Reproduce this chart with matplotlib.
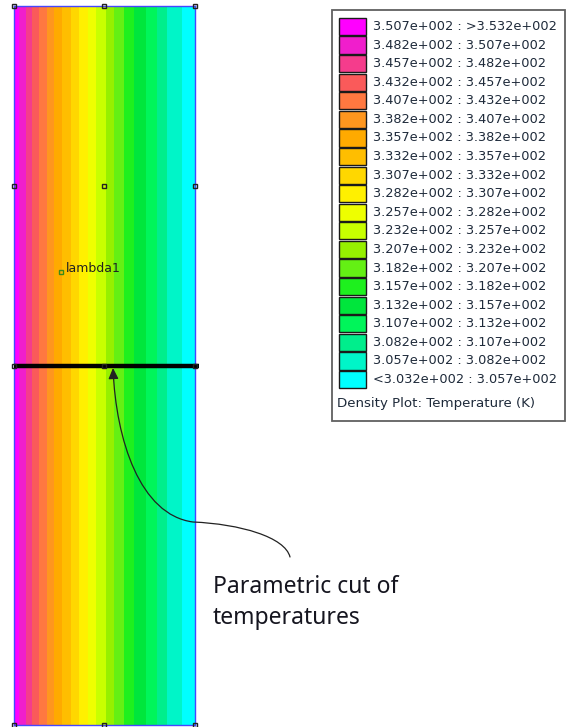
import matplotlib
matplotlib.use('Agg')
import matplotlib.pyplot as plt
from matplotlib.colors import ListedColormap, BoundaryNorm
from matplotlib.patches import Rectangle, FancyArrowPatch
from matplotlib.path import Path

#---------------------------------------------------------------
## Datos: niveles del mapa de densidad (K) y colores de la paleta
niveles = [303.2, 305.7, 308.2, 310.7, 313.2, 315.7, 318.2, 320.7, 323.2, 325.7,
           328.2, 330.7, 333.2, 335.7, 338.2, 340.7, 343.2, 345.7, 348.2, 350.7, 353.2]
colores = ['#00FFFF', '#00F5C8', '#00EE8C', '#00F55A', '#00E63C', '#1EF01E',
           '#64F014', '#96F000', '#C8FF00', '#EEFF00', '#FFF000', '#FFD700',
           '#FFBE00', '#FFAA00', '#FF961E', '#FF7840', '#FA5A5A', '#F53C8C',
           '#F01ECC', '#FF00FF']
etiquetas = ['3.507e+002 : >3.532e+002', '3.482e+002 : 3.507e+002',
             '3.457e+002 : 3.482e+002', '3.432e+002 : 3.457e+002',
             '3.407e+002 : 3.432e+002', '3.382e+002 : 3.407e+002',
             '3.357e+002 : 3.382e+002', '3.332e+002 : 3.357e+002',
             '3.307e+002 : 3.332e+002', '3.282e+002 : 3.307e+002',
             '3.257e+002 : 3.282e+002', '3.232e+002 : 3.257e+002',
             '3.207e+002 : 3.232e+002', '3.182e+002 : 3.207e+002',
             '3.157e+002 : 3.182e+002', '3.132e+002 : 3.157e+002',
             '3.107e+002 : 3.132e+002', '3.082e+002 : 3.107e+002',
             '3.057e+002 : 3.082e+002', '<3.032e+002 : 3.057e+002']

## Geometria del modelo (mm): bordes de las isotermas y temperatura de cada franja
x_bordes = [0.0, 0.28, 0.67, 1.0, 1.39, 1.83, 2.22, 2.67, 3.17, 3.61, 4.11,
            4.56, 5.11, 5.56, 6.11, 6.67, 7.33, 7.94, 8.5, 9.28, 10.0]
T_franjas = [352.0, 349.5, 347.0, 344.5, 342.0, 339.5, 337.0, 334.5, 332.0, 329.5,
             327.0, 324.5, 322.0, 319.5, 317.0, 314.5, 312.0, 309.5, 307.0, 304.5]
nodos_x = [0, 5, 10]
nodos_y = [0, 20, 30, 40]
y_corte = 20
#---------------------------------------------------------------
W, H = 566, 727
fig = plt.figure(figsize=(W/100, H/100), dpi=100)

## Mapa de temperatura
axf = fig.add_axes([14/W, (H-725)/H, 180.5/W, 719/H])
cmap = ListedColormap(colores)
norm = BoundaryNorm(niveles, cmap.N)
axf.pcolormesh(x_bordes, [0, 40], [T_franjas], cmap=cmap, norm=norm)
axf.set_xlim(0, 10)
axf.set_ylim(0, 40)
axf.set_xticks([])
axf.set_yticks([])
for s in axf.spines.values():
    s.set_color('#4646ff')
    s.set_linewidth(1.0)

# corte parametrico
axf.plot([0, 10.25], [y_corte, y_corte], color='black', lw=3.2, clip_on=False,
         solid_capstyle='butt', zorder=5)
for yy in nodos_y:
    for xx in nodos_x:
        axf.plot(xx, yy, 's', ms=3.5, mfc='none', mec='#222222', mew=1.0,
                 clip_on=False, zorder=6)
axf.plot(2.6, 25.2, 's', ms=3.2, mfc='none', mec='#3a8a1a', mew=1.0, zorder=6)
axf.text(2.9, 25.2, 'lambda1', fontsize=9, color='#222222', va='baseline', ha='left')

## Capa de anotaciones en pixeles
ax = fig.add_axes([0, 0, 1, 1])
ax.set_xlim(0, W)
ax.set_ylim(H, 0)
ax.axis('off')

# leyenda
ax.add_patch(Rectangle((332, 10), 233, 411, facecolor='white', edgecolor='#606060', lw=1.3))
paso = 18.58
for i, lab in enumerate(etiquetas):
    yc = 26.5 + i*paso
    ax.add_patch(Rectangle((338.5, yc - 8.6), 27.5, 17.2, facecolor=colores[-1 - i],
                           edgecolor='#1a1a1a', lw=1.0))
    ax.text(373, yc, lab, fontsize=9.3, color='#1e2a3a', va='center', ha='left')
ax.text(337, 403, 'Density Plot: Temperature (K)', fontsize=9.6, color='#1e2a3a',
        va='center', ha='left')

# flecha curva
verts = [(290, 557), (285, 537), (240, 524), (193, 522),
         (140, 515), (116, 440), (113, 368)]
codes = [Path.MOVETO, Path.CURVE4, Path.CURVE4, Path.CURVE4,
         Path.CURVE4, Path.CURVE4, Path.CURVE4]
flecha = FancyArrowPatch(path=Path(verts, codes),
                         arrowstyle='-|>,head_length=0.65,head_width=0.3',
                         mutation_scale=10, color='#222222', lw=0.9)
ax.add_patch(flecha)

ax.text(213, 593, 'Parametric cut of', fontsize=16.5, family='Noto Sans', color='#15151f',
        va='baseline', ha='left')
ax.text(213, 624, 'temperatures', fontsize=16.5, family='Noto Sans', color='#15151f',
        va='baseline', ha='left')

plt.savefig('out.png', dpi=100)
